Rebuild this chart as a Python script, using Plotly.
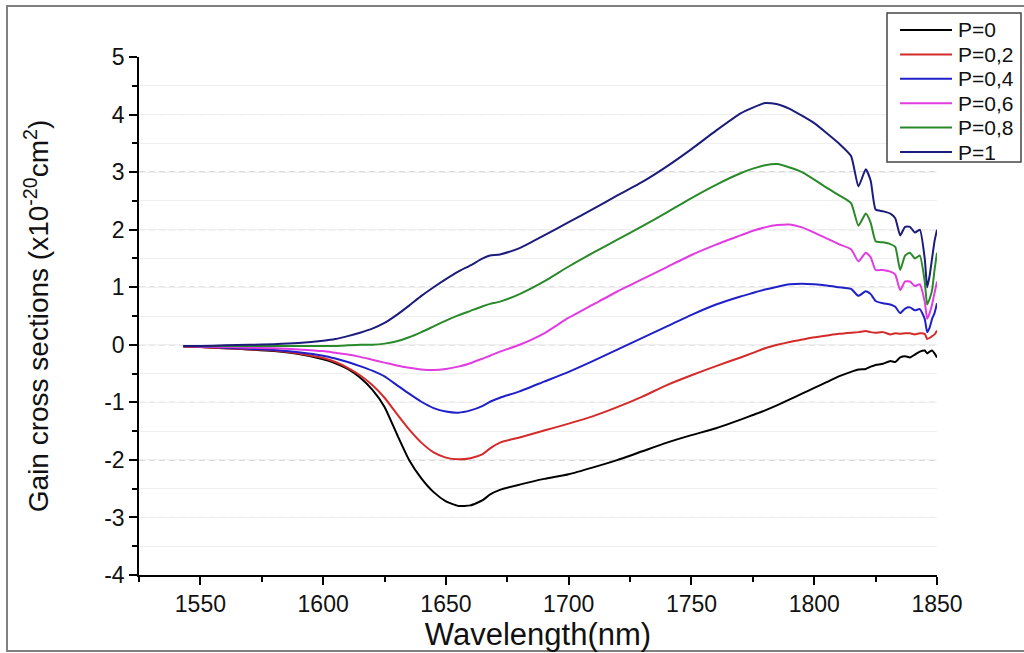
import plotly.graph_objects as go

# Wavelength grid (nm) shared by all spectra
wavelength = [
    1543, 1550, 1560, 1570, 1580, 1590, 1600, 1605, 1610, 1615,
    1620, 1625, 1630, 1635, 1640, 1645, 1650, 1655, 1660, 1665,
    1668, 1672, 1680, 1690, 1700, 1710, 1720, 1730, 1740, 1750,
    1760, 1770, 1775, 1780, 1785, 1790, 1795, 1800, 1805, 1810,
    1815, 1818, 1821, 1823, 1825, 1828, 1831, 1833, 1835, 1837,
    1839, 1841, 1843, 1845, 1846, 1847, 1848, 1849, 1850,
]

# Gain cross sections (x1e-20 cm^2) for each population ratio P
gain_p0 = [
    -0.03, -0.04, -0.06, -0.08, -0.11, -0.16, -0.25, -0.32, -0.42, -0.57,
    -0.78, -1.08, -1.55, -2.00, -2.32, -2.56, -2.72, -2.80, -2.79, -2.70,
    -2.60, -2.52, -2.43, -2.33, -2.25, -2.13, -2.00, -1.85, -1.70, -1.57,
    -1.45, -1.30, -1.22, -1.14, -1.05, -0.95, -0.85, -0.75, -0.65, -0.55,
    -0.47, -0.43, -0.42, -0.38, -0.35, -0.33, -0.28, -0.30, -0.22, -0.20,
    -0.22, -0.17, -0.12, -0.10, -0.15, -0.12, -0.10, -0.15, -0.22,
]
gain_p02 = [
    -0.03, -0.04, -0.06, -0.08, -0.10, -0.15, -0.23, -0.30, -0.40, -0.53,
    -0.70, -0.92, -1.20, -1.47, -1.70, -1.87, -1.96, -1.99, -1.97, -1.90,
    -1.80, -1.70, -1.61, -1.49, -1.37, -1.24, -1.08, -0.90, -0.70, -0.53,
    -0.37, -0.22, -0.14, -0.06, 0.00, 0.05, 0.09, 0.13, 0.16, 0.19,
    0.21, 0.22, 0.24, 0.22, 0.21, 0.22, 0.18, 0.20, 0.19, 0.20,
    0.20, 0.18, 0.20, 0.19, 0.10, 0.12, 0.15, 0.18, 0.25,
]
gain_p04 = [
    -0.02, -0.03, -0.05, -0.07, -0.09, -0.13, -0.19, -0.24, -0.30, -0.37,
    -0.45, -0.55, -0.70, -0.85, -0.99, -1.10, -1.16, -1.18, -1.14, -1.06,
    -0.99, -0.92, -0.81, -0.64, -0.47, -0.28, -0.08, 0.12, 0.32, 0.52,
    0.70, 0.84, 0.90, 0.96, 1.01, 1.05, 1.06, 1.05, 1.03, 1.00,
    0.97, 0.85, 0.93, 0.88, 0.76, 0.72, 0.70, 0.66, 0.55, 0.63,
    0.65, 0.60, 0.62, 0.45, 0.22, 0.30, 0.45, 0.55, 0.72,
]
gain_p06 = [
    -0.02, -0.03, -0.04, -0.05, -0.06, -0.08, -0.11, -0.14, -0.17, -0.21,
    -0.26, -0.31, -0.36, -0.40, -0.43, -0.44, -0.42, -0.38, -0.32, -0.24,
    -0.19, -0.12, 0.00, 0.20, 0.47, 0.70, 0.93, 1.14, 1.35, 1.56,
    1.74, 1.90, 1.98, 2.04, 2.08, 2.09, 2.04, 1.95, 1.85, 1.75,
    1.66, 1.45, 1.60, 1.52, 1.30, 1.30, 1.27, 1.22, 0.95, 1.10,
    1.10, 1.02, 1.05, 0.75, 0.45, 0.55, 0.70, 0.90, 1.10,
]
gain_p08 = [
    -0.02, -0.02, -0.02, -0.02, -0.02, -0.02, -0.02, -0.02, -0.01, 0.00,
    0.00, 0.02, 0.06, 0.13, 0.22, 0.32, 0.42, 0.51, 0.59, 0.67,
    0.71, 0.75, 0.88, 1.10, 1.36, 1.60, 1.83, 2.06, 2.30, 2.55,
    2.78, 2.98, 3.06, 3.12, 3.14, 3.08, 3.00, 2.87, 2.73, 2.60,
    2.46, 2.07, 2.28, 2.12, 1.80, 1.78, 1.75, 1.70, 1.30, 1.55,
    1.60, 1.50, 1.55, 1.10, 0.70, 0.80, 0.95, 1.30, 1.60,
]
gain_p1 = [
    -0.02, -0.02, -0.01, 0.00, 0.01, 0.03, 0.07, 0.10, 0.15, 0.21,
    0.28, 0.38, 0.52, 0.68, 0.85, 1.00, 1.14, 1.27, 1.38, 1.50,
    1.55, 1.57, 1.68, 1.90, 2.13, 2.36, 2.60, 2.83, 3.10, 3.40,
    3.72, 4.02, 4.12, 4.20, 4.18, 4.10, 3.98, 3.85, 3.68, 3.50,
    3.28, 2.75, 3.05, 2.85, 2.35, 2.32, 2.28, 2.20, 1.90, 2.05,
    2.05, 1.95, 2.00, 1.50, 1.00, 1.20, 1.50, 1.80, 2.00,
]

series_names = ["P=0", "P=0,2", "P=0,4", "P=0,6", "P=0,8", "P=1"]
series_values = [gain_p0, gain_p02, gain_p04, gain_p06, gain_p08, gain_p1]
series_colors = ["#000000", "#d42a2a", "#2020c8", "#e23be2", "#2a8a2a", "#1c1c7c"]

y_tick_values = [-4, -3, -2, -1, 0, 1, 2, 3, 4, 5]
y_tick_labels = ["-4", "-3", "-2", "-1", "0", "1", "2", "3", "4", "5"]
x_tick_values = [1550, 1600, 1650, 1700, 1750, 1800, 1850]
grid_levels = [-3, -2, -1, 0, 1, 2, 3, 4]

W, H = 1024, 653
ML, MR, MT, MB = 139, 87, 57, 78
PW, PH = W - ML - MR, H - MT - MB
FONT = "Liberation Sans, Arial, sans-serif"
TEXT = "#111111"


def px_x(px):
    """Horizontal pixel position -> paper coordinate."""
    return (px - ML) / PW


def px_y(py):
    """Vertical pixel position (from top) -> paper coordinate."""
    return (H - MB - py) / PH


fig = go.Figure()
for name, vals, color in zip(series_names, series_values, series_colors):
    fig.add_trace(go.Scatter(
        x=wavelength, y=vals, mode="lines", name=name,
        line=dict(color=color, width=2, shape="spline", smoothing=0.5),
        showlegend=False,
    ))

# dashed horizontal reference lines at the major y ticks
for g in grid_levels:
    fig.add_shape(type="line", xref="paper", x0=0, x1=1, yref="y", y0=g, y1=g,
                  line=dict(color="#a0a0a0", width=1, dash="6px,4px"), layer="below")

# grey frame around the whole figure
fig.add_shape(type="rect", xref="paper", yref="paper",
              x0=px_x(7), x1=px_x(1040), y0=px_y(651), y1=px_y(6),
              line=dict(color="#808080", width=2), fillcolor="rgba(0,0,0,0)")

# boxed legend in the upper right corner
LEG_LEFT, LEG_RIGHT, LEG_TOP, LEG_BOTTOM = 887, 1021, 13, 162
LEG_ROW0, LEG_STEP = 30, 24.4
fig.add_shape(type="rect", xref="paper", yref="paper",
              x0=px_x(LEG_LEFT), x1=px_x(LEG_RIGHT), y0=px_y(LEG_BOTTOM), y1=px_y(LEG_TOP),
              line=dict(color="#444444", width=1.5), fillcolor="white")
for i, (name, color) in enumerate(zip(series_names, series_colors)):
    row = LEG_ROW0 + i * LEG_STEP
    fig.add_shape(type="line", xref="paper", yref="paper",
                  x0=px_x(900), x1=px_x(952), y0=px_y(row), y1=px_y(row),
                  line=dict(color=color, width=2))
    fig.add_annotation(text=name, xref="paper", yref="paper",
                       x=px_x(956), y=px_y(row), xanchor="left", yanchor="middle",
                       showarrow=False, font=dict(family=FONT, size=21, color=TEXT))

axis_common = dict(
    showline=True, linecolor="black", linewidth=1.5,
    ticks="outside", tickcolor="black", tickwidth=1.5, ticklen=8,
    mirror=False, zeroline=False,
    tickfont=dict(family=FONT, size=23, color=TEXT),
)

fig.update_xaxes(
    range=[1525, 1850], tickvals=x_tick_values, showgrid=False,
    minor=dict(dtick=25, tick0=1525, ticks="outside", ticklen=5, tickwidth=1.5, tickcolor="black"),
    title=dict(text="Wavelength(nm)", font=dict(family=FONT, size=31, color=TEXT), standoff=3),
    **axis_common,
)
fig.update_yaxes(
    range=[-4, 5], tickvals=y_tick_values, ticktext=y_tick_labels, showgrid=False,
    minor=dict(dtick=0.5, tick0=-4, ticks="outside", ticklen=5, tickwidth=1.5, tickcolor="black",
               showgrid=True, gridcolor="#efefef", gridwidth=1),
    title=dict(text="Gain cross sections (x10<sup>-20</sup>cm<sup>2</sup>)",
               font=dict(family=FONT, size=28, color=TEXT), standoff=47),
    **axis_common,
)

fig.update_layout(
    width=W, height=H,
    margin=dict(l=ML, r=MR, t=MT, b=MB, autoexpand=False),
    paper_bgcolor="white", plot_bgcolor="white",
    showlegend=False,
)

fig.write_html("out.html")
